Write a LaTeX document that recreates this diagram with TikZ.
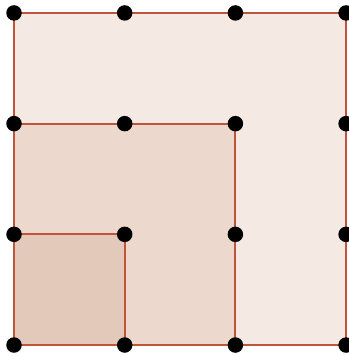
\documentclass[tikz,border=0pt]{standalone}
\usepackage{tikz}
\definecolor{edgered}{RGB}{192,84,58}
\definecolor{outerfill}{RGB}{245,233,227}
\definecolor{midfill}{RGB}{236,216,204}
\definecolor{innerfill}{RGB}{227,201,186}
\tikzstyle{square} = [draw=edgered, line width=0.55pt]
\tikzstyle{dot} = [circle, fill=black, inner sep=0pt, minimum size=0.14cm]

\begin{document}
\begin{tikzpicture}

\useasboundingbox (-0.1265,-0.099) rectangle (3.026,3.117);

% nested squares
\filldraw [square, fill=outerfill] (0,0) rectangle (3,3);
\filldraw [square, fill=midfill] (0,0) rectangle (2,2);
\filldraw [square, fill=innerfill] (0,0) rectangle (1,1);

% grid points
\foreach \i in {0,...,3}
  \foreach \j in {0,...,3}
    \node (p\i\j) [dot] at (\i,\j) {};

\end{tikzpicture}
\end{document}
